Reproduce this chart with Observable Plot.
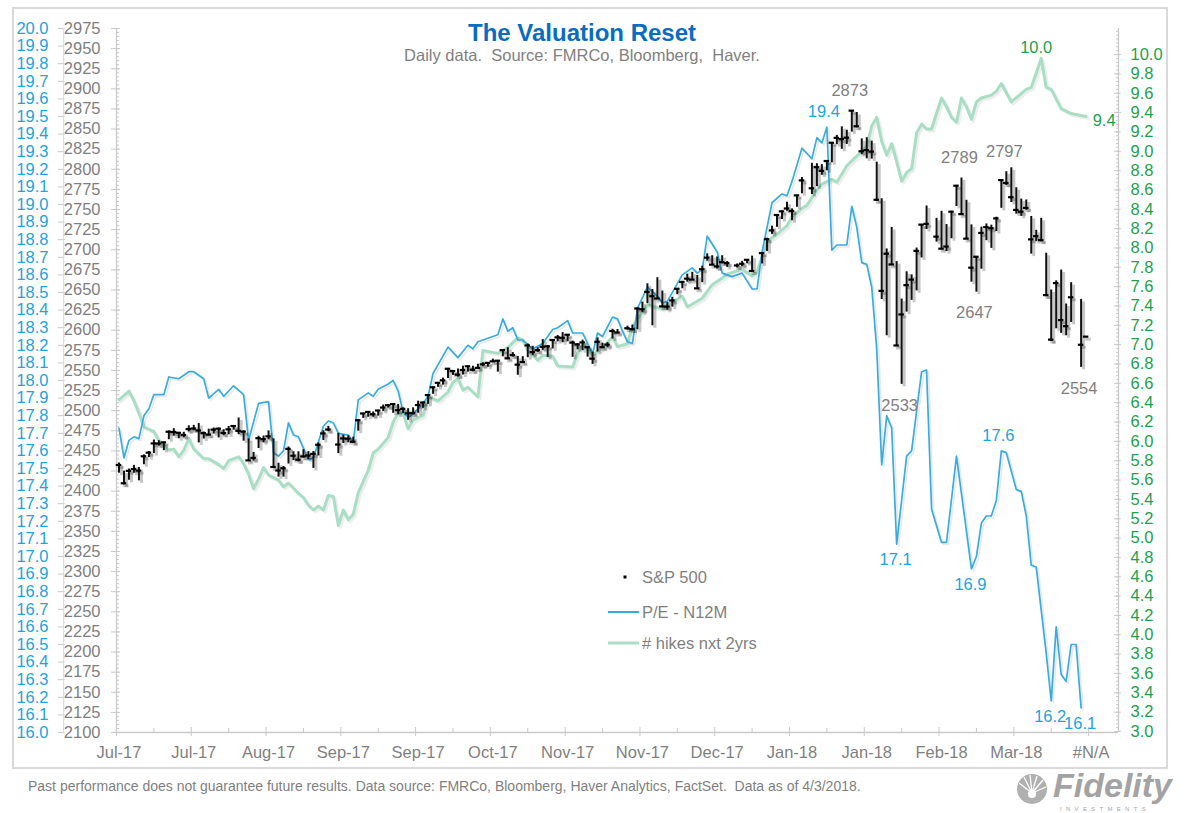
<!DOCTYPE html>
<html><head><meta charset="utf-8">
<script src="https://cdn.jsdelivr.net/npm/d3@7"></script>
<script src="https://cdn.jsdelivr.net/npm/@observablehq/plot@0.6"></script>
<style>
html,body{margin:0;padding:0;background:#fff;}
#wrap{position:relative;width:1200px;height:813px;overflow:hidden;font-family:"Liberation Sans",Arial,sans-serif;}
#chart{position:absolute;left:0;top:0;}
#overlay{position:absolute;left:0;top:0;pointer-events:none;font-family:"Liberation Sans",Arial,sans-serif;}
</style></head><body>
<div id="wrap">
<div id="chart"></div>
<svg id="overlay" width="1200" height="813">
  <rect x="13" y="8" width="1154" height="760" fill="none" stroke="#d9d9d9" stroke-width="2"/>
  <text x="582" y="41" text-anchor="middle" font-size="24" font-weight="bold" fill="#0a6cbf">The Valuation Reset</text>
  <text x="582" y="61" text-anchor="middle" font-size="16.5" fill="#7f7f7f" style="white-space:pre">Daily data.  Source: FMRCo, Bloomberg,  Haver.</text>
  <rect x="623.5" y="575.5" width="3" height="3" fill="#000"/>
  <text x="642" y="583" font-size="16.5" fill="#7f7f7f">S&amp;P 500</text>
  <line x1="608" y1="612" x2="639" y2="612" stroke="#38acdf" stroke-width="2"/>
  <text x="642" y="618" font-size="16.5" fill="#7f7f7f">P/E - N12M</text>
  <line x1="608" y1="643" x2="639" y2="643" stroke="#a9dec5" stroke-width="3"/>
  <text x="642" y="649" font-size="16.5" fill="#7f7f7f"># hikes nxt 2yrs</text>
  <text x="28" y="791" font-size="14" fill="#7f7f7f" style="white-space:pre">Past performance does not guarantee future results. Data source: FMRCo, Bloomberg, Haver Analytics, FactSet.  Data as of 4/3/2018.</text>
  <g transform="translate(1032,789)">
    <circle r="15" fill="#b0b0b0"/>
    <g stroke="#fff" stroke-width="1.3">
      <line x1="0" y1="4" x2="-13" y2="-6"/><line x1="0" y1="4" x2="-8" y2="-12"/>
      <line x1="0" y1="4" x2="-2" y2="-14"/><line x1="0" y1="4" x2="5" y2="-13"/>
      <line x1="0" y1="4" x2="11" y2="-9"/><line x1="0" y1="4" x2="14" y2="-2"/>
    </g>
    <circle cy="5" r="4" fill="#fff"/>
  </g>
  <text x="1053" y="797" font-size="34" font-weight="bold" font-style="italic" fill="#a3a3a3">Fidelity</text>
  <text x="1060" y="811" font-size="6" letter-spacing="4.3" fill="#a3a3a3">INVESTMENTS</text>
</svg>
</div>
<script>
// ---------- DATA (weekday index 0 = 5 Jul 2017 ... 194 = 3 Apr 2018; null = market holiday) ----------
const spHigh = [2434.9,2424.9,2427.4,2432.0,2429.3,2445.1,2449.3,2463.5,2462.7,2460.9,2474.9,2477.6,2472.5,2473.1,2481.2,2481.7,2484.0,2473.5,2477.0,2478.5,2478.5,2476.3,2480.4,2480.9,2490.9,2474.9,2465.0,2448.1,2468.2,2468.5,2474.9,2465.0,2434.7,2430.6,2454.8,2448.9,2448.9,2451.4,2449.1,2449.2,2459.9,2475.0,2480.4,null,2471.9,2469.6,2468.6,2467.1,2488.9,2496.8,2498.4,2498.4,2500.2,2507.0,2507.8,2508.9,2507.8,2503.5,2502.5,2503.5,2511.8,2510.8,2519.4,2529.2,2535.1,2540.5,2552.5,2549.4,2551.8,2555.3,2555.2,2555.3,2557.7,2559.7,2559.7,2564.1,2562.4,2575.4,2578.3,2572.2,2567.4,2567.1,2582.9,2580.0,2578.3,2588.4,2581.1,2588.4,2593.4,2597.0,2594.4,2586.5,2583.5,2587.7,2579.7,2572.8,2590.4,2583.9,2584.6,2601.2,2600.9,null,2605.0,2606.4,2627.7,2634.9,2657.7,2650.6,2665.2,2648.7,2634.4,2640.9,2651.6,2660.3,2669.7,2671.9,2668.1,2679.6,2694.9,2692.6,2691.0,2692.6,2685.4,null,2682.4,2685.6,2687.7,2692.1,null,2695.9,2714.4,2729.3,2743.5,2748.5,2759.1,2750.8,2767.6,2789.8,null,2807.5,2807.0,2805.8,2810.3,2833.0,2842.2,2852.8,2848.6,2872.9,2870.6,2837.8,2839.3,2835.0,2808.9,2763.4,2701.0,2727.7,2685.3,2638.7,2672.6,2668.8,2702.1,2731.5,2754.4,null,2739.1,2747.8,2731.3,2747.8,2780.0,2789.2,2761.5,2730.9,2691.3,2728.1,2732.1,2730.6,2740.5,2786.6,2797.0,2801.9,2777.1,2763.0,2761.9,2741.4,2724.2,2739.1,2695.7,2650.0,2661.4,2674.8,2632.6,2659.1,null,2638.3,2592.0];
const spLow = [2422.3,2407.7,2413.5,2422.3,2412.8,2432.8,2441.7,2446.7,2456.0,2450.3,2463.9,2468.4,2465.1,2466.3,2473.6,2474.9,2459.9,2464.7,2468.5,2471.1,2466.1,2468.9,2470.0,2475.9,2470.3,2462.1,2437.8,2437.3,2453.0,2460.2,2463.9,2430.0,2417.4,2417.4,2433.7,2437.9,2436.4,2441.1,2439.4,2428.2,2443.7,2462.9,2473.9,null,2446.6,2459.2,2460.3,2459.4,2474.5,2490.4,2491.9,2491.8,2493.2,2499.0,2503.2,2496.7,2494.9,2496.5,2488.0,2495.1,2496.8,2502.9,2507.8,2520.4,2528.9,2531.8,2540.0,2543.8,2541.6,2544.3,2547.9,2548.3,2552.1,2554.6,2554.0,2559.7,2547.9,2567.0,2564.3,2566.6,2544.0,2559.5,2565.9,2568.7,2572.2,2574.9,2566.2,2576.8,2585.7,2584.4,2585.7,2566.3,2575.6,2574.5,2566.6,2557.5,2572.9,2577.6,2578.2,2589.0,2595.8,null,2600.2,2598.9,2600.5,2621.9,2633.0,2605.5,2639.0,2627.7,2624.8,2628.7,2644.1,2651.5,2659.8,2662.9,2652.0,2659.1,2685.9,2681.5,2676.1,2682.4,2678.1,null,2677.4,2678.9,2682.7,2673.6,null,2682.4,2697.8,2719.1,2727.9,2737.6,2747.9,2736.1,2752.8,2769.6,null,2768.6,2778.4,2792.6,2798.1,2808.1,2830.6,2824.8,2830.9,2846.2,2851.5,2818.3,2813.0,2812.7,2760.0,2638.2,2593.1,2681.3,2580.6,2532.7,2622.5,2637.1,2648.9,2689.8,2725.1,null,2709.5,2701.3,2697.8,2713.7,2753.8,2744.2,2713.5,2659.7,2647.3,2675.8,2711.3,2701.7,2722.7,2751.5,2779.9,2758.7,2744.4,2741.5,2749.0,2694.6,2710.1,2709.8,2641.6,2585.9,2601.8,2596.1,2593.1,2609.7,null,2553.8,2592.0];
const spClose = [2432.5,2409.8,2425.2,2427.4,2425.5,2443.3,2447.8,2459.3,2459.1,2460.6,2473.8,2473.5,2472.5,2469.9,2477.1,2477.8,2475.4,2472.1,2470.3,2476.4,2477.6,2472.2,2476.8,2480.9,2474.9,2474.0,2438.2,2441.3,2465.8,2464.6,2468.1,2430.0,2425.6,2428.4,2452.5,2444.0,2439.0,2443.1,2444.2,2446.3,2457.6,2471.7,2476.6,null,2457.9,2465.5,2465.1,2461.4,2488.1,2496.5,2498.4,2495.6,2500.2,2503.9,2506.7,2508.2,2500.6,2502.2,2496.7,2496.8,2507.0,2510.1,2519.4,2529.1,2534.6,2537.7,2552.1,2549.3,2544.7,2550.6,2555.2,2550.9,2553.2,2557.6,2559.4,2561.3,2562.1,2575.2,2565.0,2569.1,2557.2,2560.4,2581.1,2572.8,2575.3,2579.4,2579.9,2587.8,2591.1,2590.6,2594.4,2584.6,2582.3,2584.8,2578.9,2564.6,2585.6,2578.9,2582.1,2599.0,2597.1,null,2602.4,2601.4,2627.0,2626.1,2647.6,2642.2,2639.4,2629.6,2629.3,2637.0,2651.5,2660.0,2664.1,2662.9,2652.0,2675.8,2690.2,2681.5,2679.3,2684.6,2683.3,null,2680.5,2682.6,2687.5,2673.6,null,2695.8,2713.1,2724.0,2743.2,2747.7,2751.3,2748.2,2767.6,2786.2,null,2776.4,2802.6,2798.0,2810.3,2833.0,2839.1,2837.5,2839.3,2872.9,2853.5,2822.4,2823.8,2822.0,2762.1,2648.9,2695.1,2681.7,2581.0,2619.6,2656.0,2662.9,2698.6,2731.2,2732.2,null,2716.3,2701.3,2704.0,2747.3,2779.6,2744.3,2713.8,2677.7,2691.3,2720.9,2728.1,2726.8,2739.0,2786.6,2783.0,2765.3,2749.5,2747.3,2752.0,2712.9,2716.9,2711.9,2643.7,2588.3,2658.6,2612.6,2605.0,2640.9,null,2581.9,2592.0];

// P/E - N12M, [weekday index, value] read at the line's vertices
const peSeries = [[0,17.73],[1,17.56],[2,17.66],[3,17.68],[4,17.67],[5,17.80],[6,17.84],[7,17.92],[9,17.92],[10,18.02],[12,18.01],[14,18.05],[15,18.05],[17,18.01],[18,17.90],[20,17.95],[21,17.91],[23,17.97],[25,17.92],[26,17.66],[28,17.87],[30,17.88],[31,17.59],[32,17.57],[33,17.60],[34,17.76],[35,17.69],[36,17.68],[38,17.55],[39,17.56],[41,17.74],[42,17.77],[43,17.76],[44,17.70],[46,17.69],[47,17.65],[48,17.89],[50,17.93],[51,17.91],[52,17.95],[54,17.98],[55,18.00],[56,17.94],[57,17.82],[58,17.79],[59,17.81],[61,17.87],[62,17.91],[63,18.04],[66,18.19],[68,18.13],[70,18.20],[71,18.18],[72,18.22],[74,18.24],[76,18.26],[77,18.35],[78,18.28],[79,18.30],[80,18.23],[81,18.23],[83,18.18],[85,18.21],[87,18.29],[88,18.30],[90,18.34],[91,18.27],[93,18.27],[95,18.15],[96,18.27],[97,18.25],[99,18.36],[100,18.35],[101,18.28],[102,18.22],[103,18.21],[104,18.41],[106,18.53],[108,18.48],[109,18.44],[110,18.45],[112,18.55],[113,18.60],[115,18.64],[116,18.61],[117,18.63],[118,18.82],[120,18.73],[121,18.61],[123,18.59],[125,18.61],[127,18.52],[128,18.52],[129,18.73],[131,19.01],[133,19.06],[134,19.05],[135,19.13],[137,19.32],[139,19.26],[140,19.38],[141,19.35],[142,19.44],[143,18.74],[144,18.77],[146,18.77],[147,18.99],[148,18.87],[149,18.67],[150,18.66],[151,18.53],[152,18.18],[153,17.52],[154,17.80],[155,17.73],[156,17.07],[158,17.57],[159,17.60],[161,18.05],[162,18.06],[163,17.27],[165,17.08],[166,17.08],[168,17.57],[171,16.93],[172,17.00],[173,17.19],[174,17.23],[175,17.23],[176,17.32],[177,17.60],[178,17.59],[180,17.38],[181,17.37],[182,17.23],[183,16.95],[184,16.94],[186,16.45],[187,16.18],[188,16.60],[189,16.33],[190,16.29],[191,16.50],[192,16.50],[193,16.14]];

// # hikes next 2 years, [weekday index, value]
const hikeSeries = [[0,6.43],[2,6.52],[3,6.42],[4,6.29],[5,6.15],[7,6.10],[8,6.01],[10,5.91],[11,5.92],[12,5.84],[13,5.91],[14,6.03],[15,5.92],[16,5.87],[17,5.82],[18,5.82],[20,5.76],[21,5.72],[22,5.80],[24,5.84],[25,5.77],[26,5.66],[27,5.51],[28,5.61],[29,5.73],[30,5.65],[32,5.60],[33,5.53],[34,5.57],[36,5.46],[37,5.42],[38,5.34],[39,5.29],[40,5.33],[41,5.29],[42,5.44],[43,5.43],[44,5.13],[45,5.29],[46,5.19],[47,5.25],[48,5.47],[50,5.70],[51,5.88],[52,5.92],[54,6.04],[55,6.20],[56,6.29],[57,6.29],[58,6.13],[59,6.22],[61,6.27],[62,6.46],[63,6.44],[64,6.42],[66,6.51],[67,6.61],[68,6.65],[69,6.53],[70,6.56],[72,6.46],[73,6.94],[76,6.91],[78,6.97],[80,7.07],[81,7.05],[82,6.94],[84,6.84],[85,6.89],[87,6.88],[88,6.78],[91,6.77],[92,6.91],[93,7.01],[95,6.89],[97,6.97],[99,7.08],[100,6.98],[102,7.01],[103,7.19],[106,7.41],[109,7.37],[111,7.44],[113,7.50],[114,7.39],[117,7.48],[119,7.62],[121,7.69],[122,7.73],[125,7.78],[127,7.71],[128,7.75],[130,8.07],[132,8.14],[134,8.23],[135,8.32],[137,8.41],[138,8.44],[140,8.60],[141,8.66],[143,8.71],[144,8.68],[146,8.85],[148,8.95],[150,9.05],[151,9.26],[152,9.35],[153,9.10],[154,8.96],[155,9.08],[156,8.89],[157,8.69],[158,8.78],[159,8.82],[160,9.19],[161,9.28],[162,9.23],[163,9.23],[165,9.55],[166,9.46],[167,9.35],[168,9.30],[169,9.55],[170,9.46],[171,9.33],[172,9.51],[173,9.55],[175,9.58],[176,9.62],[177,9.70],[179,9.51],[182,9.64],[183,9.66],[185,9.96],[186,9.66],[187,9.64],[189,9.44],[191,9.39],[194,9.36]];

// category axis labels (every 15th weekday) and tick values
const xLabels = ["Jul-17","Jul-17","Aug-17","Sep-17","Sep-17","Oct-17","Nov-17","Nov-17","Dec-17","Jan-18","Jan-18","Feb-18","Mar-18","#N/A"];
const xLabelDays = [0,15,30,45,60,75,90,105,120,135,150,165,180,195];
const spTicks = [2100,2125,2150,2175,2200,2225,2250,2275,2300,2325,2350,2375,2400,2425,2450,2475,2500,2525,2550,2575,2600,2625,2650,2675,2700,2725,2750,2775,2800,2825,2850,2875,2900,2925,2950,2975];
const peTicks = [16.0,16.1,16.2,16.3,16.4,16.5,16.6,16.7,16.8,16.9,17.0,17.1,17.2,17.3,17.4,17.5,17.6,17.7,17.8,17.9,18.0,18.1,18.2,18.3,18.4,18.5,18.6,18.7,18.8,18.9,19.0,19.1,19.2,19.3,19.4,19.5,19.6,19.7,19.8,19.9,20.0];
const hikeTicks = [3.0,3.2,3.4,3.6,3.8,4.0,4.2,4.4,4.6,4.8,5.0,5.2,5.4,5.6,5.8,6.0,6.2,6.4,6.6,6.8,7.0,7.2,7.4,7.6,7.8,8.0,8.2,8.4,8.6,8.8,9.0,9.2,9.4,9.6,9.8,10.0];

// labelled points
const spHighLabelDays = [147,169,178];
const spLowLabelDays = [157,172,193];
const peAboveLabelDays = [142,177];
const peBelowLabelDays = [156,171,187,193];

// ---------- CHART ----------
const AX = "#c9c9c9", GRAY = "#7f7f7f", BLUE = "#38acdf", BLUE_TXT = "#22a3dc", GREEN = "#a9dec5", GREEN_TXT = "#1e9f4c";
const FS = 16.5;
const pe2sp = p => 2100 + (p - 16) * 218.75;
const sp2pe = s => 16 + (s - 2100) / 218.75;
const h2sp = h => 2101.24 + (h - 3) * 120.2;
const sp2h = s => 3 + (s - 2101.24) / 120.2;

const sp = spHigh.map((h, i) => ({i, high: h, low: spLow[i], close: spClose[i]})).filter(d => d.high != null);
const pe = peSeries.map(([i, v]) => ({i, v}));
const hk = hikeSeries.map(([i, v]) => ({i, v}));
const cx = d => d.i + 0.5;

const spMinor = d3.range(2100, 2976, 5);
const peMinor = d3.range(0, 161).map(k => pe2sp(16 + k * 0.025));
const hkMinor = d3.range(0, 182).map(k => h2sp(3 + k * 0.04));
const xMinor = xLabelDays.map(d => d + 7.5).filter(d => d < 201);

const chart = Plot.plot({
  width: 1200, height: 813,
  marginLeft: 116, marginRight: 82, marginTop: 28, marginBottom: 81,
  x: {domain: [0, 201], axis: null},
  y: {domain: [2100, 2975], axis: null},
  style: {fontFamily: "'Liberation Sans', Arial, sans-serif", fontSize: FS + "px", background: "transparent", overflow: "visible"},
  marks: [
    // axis lines
    Plot.ruleY([2100], {stroke: AX, strokeWidth: 1.3}),
    Plot.ruleX([0], {stroke: AX, strokeWidth: 1.3}),
    Plot.ruleX([0], {stroke: "#dedede", dx: -53}),
    Plot.ruleX([201], {stroke: AX, strokeWidth: 1.3}),
    // S&P (black) axis
    Plot.axisY({anchor: "left", ticks: spTicks, tickFormat: d => String(d), tickSize: 0, tickPadding: 16, fill: GRAY, fontSize: FS, label: null}),
    Plot.axisY({anchor: "left", ticks: spTicks, tickSize: 5, stroke: AX, fill: "none", label: null}),
    Plot.axisY({anchor: "left", ticks: spTicks, tickSize: 4, dx: 4, stroke: AX, fill: "none", label: null}),
    Plot.axisY({anchor: "left", ticks: spMinor, tickSize: 3, dx: 3, stroke: AX, fill: "none", label: null}),
    // P/E (blue) axis
    Plot.axisY({anchor: "left", ticks: peTicks.map(pe2sp), tickFormat: v => sp2pe(v).toFixed(1), tickSize: 5, tickPadding: 10, dx: -53, stroke: AX, fill: BLUE_TXT, fontSize: FS, label: null}),
    Plot.axisY({anchor: "left", ticks: peMinor, tickSize: 2, dx: -51, stroke: "#dcdcdc", fill: "none", label: null}),
    // hikes (green) axis
    Plot.axisY({anchor: "right", ticks: hikeTicks.map(h2sp), tickFormat: v => sp2h(v).toFixed(1), tickSize: 2, tickPadding: 10, stroke: AX, fill: GREEN_TXT, fontSize: FS, label: null}),
    Plot.axisY({anchor: "right", ticks: hikeTicks.map(h2sp), tickSize: 5, dx: -5, stroke: AX, fill: "none", label: null}),
    Plot.axisY({anchor: "right", ticks: hkMinor, tickSize: 3, dx: -3, stroke: AX, fill: "none", label: null}),
    // x axis
    Plot.axisX({anchor: "bottom", ticks: xLabelDays.map(d => d + 0.5), tickFormat: v => xLabels[xLabelDays.indexOf(Math.round(v - 0.5))], tickSize: 0, tickPadding: 14, fill: GRAY, fontSize: FS, label: null}),
    Plot.axisX({anchor: "bottom", ticks: xLabelDays, tickSize: 4, stroke: AX, fill: "none", label: null}),
    Plot.axisX({anchor: "bottom", ticks: xLabelDays, tickSize: 5, dy: -5, stroke: AX, fill: "none", label: null}),
    Plot.axisX({anchor: "bottom", ticks: xMinor, tickSize: 5, dy: -4, stroke: AX, fill: "none", label: null}),
    // series: hikes line (with faint shadow)
    Plot.line(hk, {x: cx, y: d => h2sp(d.v), stroke: "#000", strokeOpacity: 0.07, strokeWidth: 3, dx: 2, dy: 2, strokeLinejoin: "round"}),
    Plot.line(hk, {x: cx, y: d => h2sp(d.v), stroke: GREEN, strokeWidth: 3, strokeLinejoin: "round"}),
    // P/E line (with faint shadow)
    Plot.line(pe, {x: cx, y: d => pe2sp(d.v), stroke: "#000", strokeOpacity: 0.09, strokeWidth: 1.7, dx: 2, dy: 2, strokeLinejoin: "round"}),
    Plot.line(pe, {x: cx, y: d => pe2sp(d.v), stroke: BLUE, strokeWidth: 1.7, strokeLinejoin: "round"}),
    // S&P high-low bars with close marker (and drop shadow)
    Plot.ruleX(sp, {x: cx, y1: "low", y2: "high", stroke: "#000", strokeOpacity: 0.22, strokeWidth: 3, dx: 2.5, dy: 2.5}),
    Plot.ruleY(sp, {x1: d => d.i - 0.05, x2: d => d.i + 1.05, y: "close", stroke: "#000", strokeOpacity: 0.22, strokeWidth: 3, dx: 2.5, dy: 2.5}),
    Plot.ruleX(sp, {x: cx, y1: "low", y2: "high", stroke: "#111", strokeWidth: 2}),
    Plot.ruleY(sp, {x1: d => d.i - 0.05, x2: d => d.i + 1.05, y: "close", stroke: "#000", strokeWidth: 2.2}),
    // point labels
    Plot.text(sp.filter(d => spHighLabelDays.includes(d.i)), {x: cx, y: "high", text: d => String(Math.round(d.high)), dy: -20, dx: -2, fill: GRAY, fontSize: FS}),
    Plot.text(sp.filter(d => spLowLabelDays.includes(d.i)), {x: cx, y: "low", text: d => String(Math.round(d.low)), dy: 21, dx: -2, fill: GRAY, fontSize: FS}),
    Plot.text(pe.filter(d => peAboveLabelDays.includes(d.i)), {x: cx, y: d => pe2sp(d.v), text: d => d.v.toFixed(1), dy: -15, dx: -3, fill: BLUE_TXT, fontSize: FS}),
    Plot.text(pe.filter(d => peBelowLabelDays.includes(d.i)), {x: cx, y: d => pe2sp(d.v), text: d => d.v.toFixed(1), dy: 16, dx: -1, fill: BLUE_TXT, fontSize: FS}),
    Plot.text(hk.filter(d => d.i === 185), {x: cx, y: d => h2sp(d.v), text: d => d.v.toFixed(1), dy: -11, dx: -5, fill: GREEN_TXT, fontSize: FS}),
    Plot.text(hk.filter(d => d.i === 194), {x: cx, y: d => h2sp(d.v), text: d => d.v.toFixed(1), dy: 4, dx: 18, fill: GREEN_TXT, fontSize: FS})
  ]
});
document.getElementById("chart").appendChild(chart);
</script>
</body></html>
